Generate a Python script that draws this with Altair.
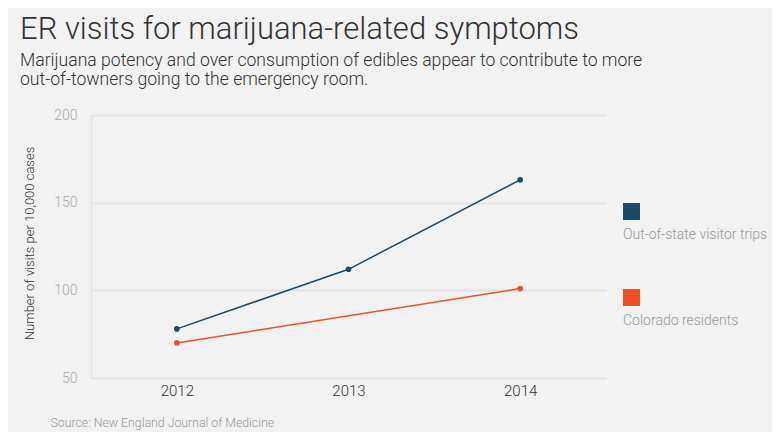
import altair as alt
import pandas as pd

years = ["2012", "2013", "2014"]
series = ["Out-of-state visitor trips", "Colorado residents"]
out_of_state = [78, 112, 163]
colorado = [70, None, 101]
colors = ["#1c4a69", "#f15026"]
y_ticks = [50, 100, 150, 200]

rows = []
for name, vals in zip(series, [out_of_state, colorado]):
    for yr, v in zip(years, vals):
        if v is not None:
            rows.append({"year": yr, "value": v, "series": name})
df = pd.DataFrame(rows)

FONT = "Roboto"

legend = alt.Legend(
    title=None, orient="none", legendX=532, legendY=88, padding=0,
    symbolType="square", symbolSize=289, symbolStrokeWidth=0, symbolOpacity=1,
    labelOffset={"expr": "-17"}, labelBaseline="top", labelExpr="['', datum.label]",
    labelFont=FONT, labelFontWeight=300, labelFontSize=14, labelColor="#999999",
    rowPadding=47, labelLimit=300,
)

base = alt.Chart(df).encode(
    x=alt.X("year:O", scale=alt.Scale(type="point", domain=years, padding=0.5),
            axis=alt.Axis(title="Source: New England Journal of Medicine", labelAngle=0,
                          domain=False, ticks=False, grid=False, labelPadding=5,
                          labelFont=FONT, labelFontWeight=300, labelFontSize=15, labelColor="#333333",
                          titleFont=FONT, titleFontWeight=300, titleFontSize=12.3, titleColor="#999999",
                          titleAnchor="start", titleAlign="left", titleBaseline="middle",
                          titleX=-41, titleY=44)),
    y=alt.Y("value:Q", scale=alt.Scale(domain=[50, 200], nice=False, zero=False),
            axis=alt.Axis(title="Number of visits per 10,000 cases", values=y_ticks,
                          grid=True, gridColor="#e4e4e4", gridWidth=2,
                          domain=True, domainColor="#e4e4e4", domainWidth=2,
                          ticks=False, labelPadding=14,
                          labelFont=FONT, labelFontWeight=300, labelFontSize=14, labelColor="#aaaaaa",
                          titleFont=FONT, titleFontWeight=300, titleFontSize=13, titleColor="#333333",
                          titlePadding=17, titleY=128)),
    color=alt.Color("series:N", scale=alt.Scale(domain=series, range=colors), legend=legend),
)

line = base.mark_line(strokeWidth=1.5)
pts = base.mark_point(filled=True, size=32, opacity=1)

chart = alt.layer(line, pts).properties(
    width=515, height=263,
    autosize=alt.AutoSizeParams(type="none"),
    padding={"left": 83, "top": 107, "right": 166, "bottom": 54},
    background="#f2f2f2",
    title=alt.TitleParams(
        text="ER visits for marijuana-related symptoms",
        subtitle=["Marijuana potency and over consumption of edibles appear to contribute to more",
                  "out-of-towners going to the emergency room."],
        anchor="start", frame="group", dx=-71, offset=18,
        font=FONT, fontWeight=300, fontSize=31, color="#333333",
        subtitleFont=FONT, subtitleFontWeight=300, subtitleFontSize=17.6, subtitleColor="#333333",
        subtitleLineHeight=19.5, subtitlePadding=6,
    ),
).configure_view(stroke=None)

chart.save("out.html", embed_options={"renderer": "svg", "actions": False})
